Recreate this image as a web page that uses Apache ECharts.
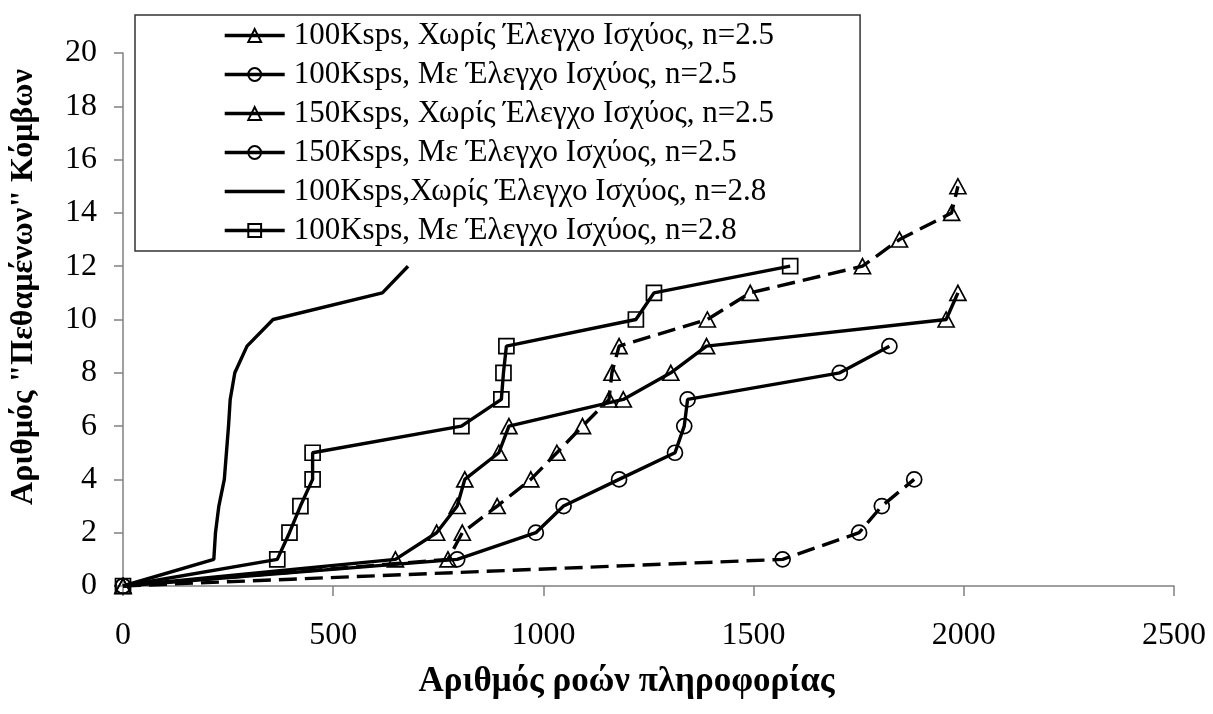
<!DOCTYPE html>
<html>
<head>
<meta charset="utf-8">
<script src="https://cdn.jsdelivr.net/npm/echarts@6/dist/echarts.min.js"></script>
<style>
  html, body { margin: 0; padding: 0; background: #ffffff; }
  #chart { width: 1213px; height: 714px; }
</style>
</head>
<body>
<div id="chart"></div>
<script>
// Series names (legend text)
const seriesNames = [
  '100Ksps, Χωρίς Έλεγχο Ισχύος, n=2.5',
  '100Ksps, Με Έλεγχο Ισχύος, n=2.5',
  '150Ksps, Χωρίς Έλεγχο Ισχύος, n=2.5',
  '150Ksps, Με Έλεγχο Ισχύος, n=2.5',
  '100Ksps,Χωρίς Έλεγχο Ισχύος, n=2.8',
  '100Ksps, Με Έλεγχο Ισχύος, n=2.8'
];

// 100Ksps, no power control, n=2.5
const flowsA = [0, 648, 746, 795, 813, 894, 918, 1190, 1303, 1388, 1958, 1986];
const nodesA = [0, 1, 2, 3, 4, 5, 6, 7, 8, 9, 10, 11];

// 100Ksps, with power control, n=2.5
const flowsB = [0, 795, 982, 1048, 1180, 1313, 1335, 1343, 1705, 1823];
const nodesB = [0, 1, 2, 3, 4, 5, 6, 7, 8, 9];

// 150Ksps, no power control, n=2.5
const flowsC = [0, 773, 807, 890, 970, 1032, 1093, 1156, 1163, 1180, 1390, 1492, 1759, 1847, 1971, 1986];
const nodesC = [0, 1, 2, 3, 4, 5, 6, 7, 8, 9, 10, 11, 12, 13, 14, 15];

// 150Ksps, with power control, n=2.5
const flowsD = [0, 1569, 1751, 1805, 1882];
const nodesD = [0, 1, 2, 3, 4];

// 100Ksps, no power control, n=2.8
const flowsE = [0, 216, 220, 228, 241, 246, 251, 255, 266, 295, 357, 617, 678];
const nodesE = [0, 1, 2, 3, 4, 5, 6, 7, 8, 9, 10, 11, 12];

// 100Ksps, with power control, n=2.8
const flowsF = [0, 367, 396, 422, 451, 451, 805, 900, 905, 912, 1220, 1263, 1587];
const nodesF = [0, 1, 2, 3, 4, 5, 6, 7, 8, 9, 10, 11, 12];

// Axis ticks
const xTicks = [0, 500, 1000, 1500, 2000, 2500];
const yTicks = [0, 2, 4, 6, 8, 10, 12, 14, 16, 18, 20];

const zip = (xs, ys) => xs.map((x, i) => [x, ys[i]]);

const serif = '"Liberation Serif", "DejaVu Serif", serif';

function makeSeries(name, xs, ys, symbol, dashed, size) {
  const hidden = symbol === 'none';
  return {
    name: name,
    type: 'line',
    data: zip(xs, ys),
    symbol: hidden ? 'circle' : symbol,
    symbolSize: size,
    showSymbol: !hidden,
    lineStyle: { color: '#000', width: 3.4, type: dashed ? [18, 8] : 'solid' },
    itemStyle: hidden
      ? { color: 'transparent', borderColor: 'transparent', borderWidth: 0, opacity: 0 }
      : { color: 'transparent', borderColor: '#000', borderWidth: 1.7 },
    emphasis: { disabled: true },
    silent: true,
    animation: false
  };
}

const chart = echarts.init(document.getElementById('chart'), null, { renderer: 'canvas' });

chart.setOption({
  backgroundColor: '#ffffff',
  animation: false,
  grid: { left: 123, right: 39, top: 53, bottom: 128, containLabel: false },
  legend: {
    orient: 'vertical',
    left: 135,
    top: 15,
    padding: [5, 86, 5, 88],
    itemGap: 8,
    itemWidth: 60,
    itemHeight: 16,
    borderColor: '#333',
    borderWidth: 1.5,
    backgroundColor: '#ffffff',
    data: seriesNames,
    lineStyle: { type: 'solid', width: 3.4 },
    textStyle: { fontFamily: serif, fontSize: 31, color: '#000', lineHeight: 30, padding: [0, 0, 0, 4] }
  },
  xAxis: {
    type: 'value',
    min: xTicks[0],
    max: xTicks[xTicks.length - 1],
    interval: 500,
    name: 'Αριθμός ροών πληροφορίας',
    nameLocation: 'middle',
    nameGap: 78,
    nameTextStyle: { fontFamily: serif, fontSize: 35, fontWeight: 'bold', color: '#000', padding: [0, 44, 0, 0] },
    axisLine: { show: true, onZero: false, lineStyle: { color: '#808080', width: 1.5 } },
    axisTick: { show: true, inside: false, length: 10, lineStyle: { color: '#808080', width: 1.5 } },
    axisLabel: { fontFamily: serif, fontSize: 32, color: '#000', margin: 34, formatter: v => String(v) },
    splitLine: { show: false }
  },
  yAxis: {
    type: 'value',
    min: yTicks[0],
    max: yTicks[yTicks.length - 1],
    interval: 2,
    name: 'Αριθμός "Πεθαμένων" Κόμβων',
    nameLocation: 'middle',
    nameGap: 83,
    nameTextStyle: { fontFamily: serif, fontSize: 32, fontWeight: 'bold', color: '#000', padding: [0, 0, 0, 65] },
    axisLine: { show: true, onZero: false, lineStyle: { color: '#808080', width: 1.5 } },
    axisTick: { show: true, inside: false, length: 9, lineStyle: { color: '#808080', width: 1.5 } },
    axisLabel: { fontFamily: serif, fontSize: 32, color: '#000', margin: 26, formatter: v => String(v) },
    splitLine: { show: false }
  },
  series: [
    makeSeries(seriesNames[0], flowsA, nodesA, 'triangle', false, [16, 15]),
    makeSeries(seriesNames[1], flowsB, nodesB, 'circle', false, 15),
    makeSeries(seriesNames[2], flowsC, nodesC, 'triangle', true, [16, 15]),
    makeSeries(seriesNames[3], flowsD, nodesD, 'circle', true, 15),
    makeSeries(seriesNames[4], flowsE, nodesE, 'none', false, 15),
    makeSeries(seriesNames[5], flowsF, nodesF, 'rect', false, 15)
  ]
});
</script>
</body>
</html>
